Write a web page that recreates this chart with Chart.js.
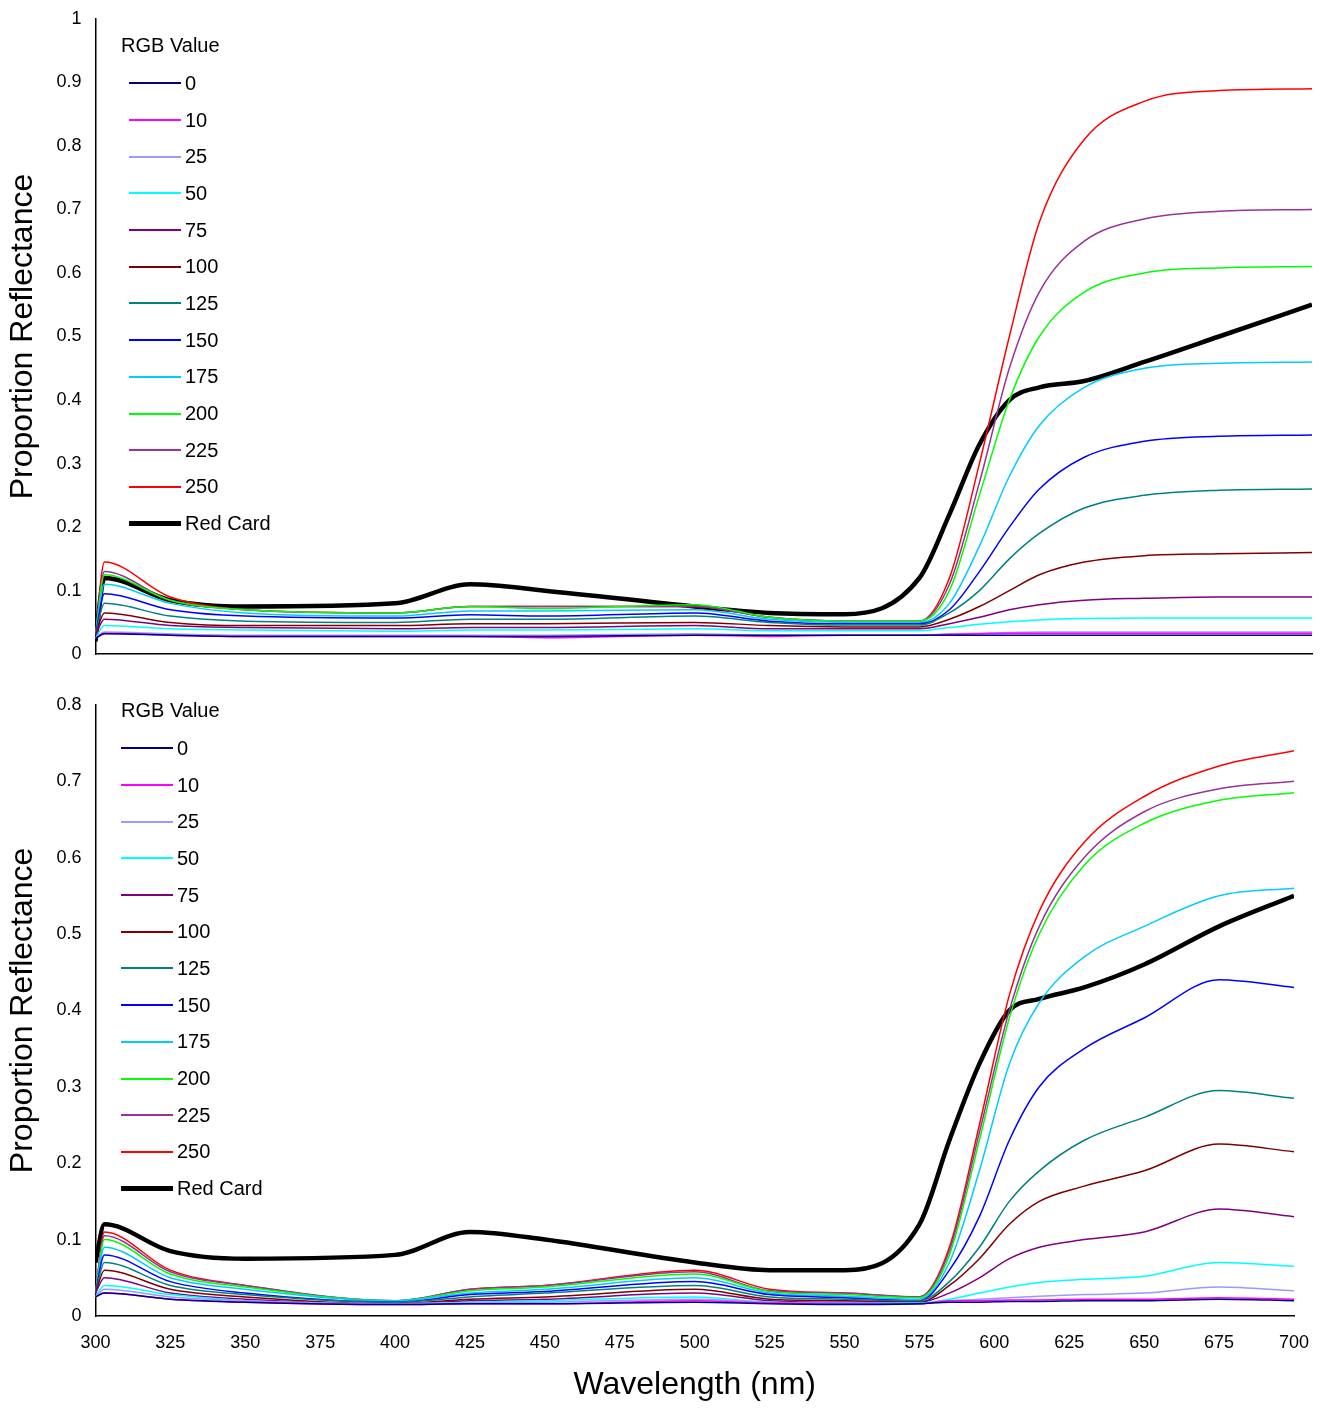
<!DOCTYPE html>
<html>
<head>
<meta charset="utf-8">
<script src="https://cdn.jsdelivr.net/npm/chart.js@4.4.1/dist/chart.umd.min.js"></script>
<style>
  body { margin: 0; background: #fff; font-family: "Liberation Sans", Arial, sans-serif; overflow: hidden; }
  .panel { position: absolute; left: 0; width: 1320px; }
  .legend { position: absolute; font-size: 20px; color: #000; }
  .legend .title { margin-bottom: 8px; }
  .legend .row { display: flex; align-items: center; height: 36.7px; }
  .legend .sw { width: 52px; margin-right: 4px; }
</style>
</head>
<body>
<div class="panel" style="top:-6px;height:685px"><canvas id="topChart"></canvas></div>
<div class="panel" style="top:680px;height:728px"><canvas id="bottomChart"></canvas></div>
<div class="legend" id="legTop" style="left:121px;top:34px"></div>
<div class="legend" id="legBottom" style="left:121px;top:699px"></div>
<script>
// wavelengths (nm) at which values were read
const waveTop = [300, 303, 325, 350, 400, 425, 450, 500, 525, 550, 575, 585, 595, 605, 615, 630, 650, 675, 706];
const waveBottom = [300, 303, 325, 350, 400, 425, 450, 500, 525, 550, 575, 585, 595, 605, 615, 630, 650, 675, 700];
const xTicks = [300, 325, 350, 375, 400, 425, 450, 475, 500, 525, 550, 575, 600, 625, 650, 675, 700];

const seriesNames = ['0', '10', '25', '50', '75', '100', '125', '150', '175', '200', '225', '250', 'Red Card'];
const seriesColors = ['#000080', '#ff00ff', '#9999ff', '#00ffff', '#800080', '#800000', '#008080', '#0000ff', '#00ccff', '#00ff00', '#993399', '#ff0000', '#000000'];

// top panel
const top0   = [.025,.032,.03,.028,.028,.028,.028,.03,.03,.03,.03, .03,.03,.03,.03,.03,.03,.03,.03];
const top10  = [.025,.033,.03,.028,.028,.028,.026,.03,.028,.03,.03, .031,.032,.033,.033,.033,.033,.033,.033];
const top25  = [.025,.035,.032,.03,.03,.03,.03,.032,.03,.03,.03, .032,.033,.034,.035,.035,.035,.035,.035];
const top50  = [.025,.045,.04,.038,.036,.038,.038,.04,.037,.037,.037, .042,.047,.051,.054,.056,.057,.057,.057];
const top75  = [.03,.055,.045,.042,.04,.042,.042,.045,.04,.04,.04, .048,.058,.07,.078,.085,.088,.09,.09];
const top100 = [.03,.065,.05,.045,.045,.048,.048,.05,.045,.043,.043, .055,.075,.10,.125,.145,.155,.158,.16];
const top125 = [.03,.08,.06,.052,.05,.055,.055,.06,.05,.046,.046, .065,.10,.15,.19,.23,.25,.258,.26];
const top150 = [.03,.095,.07,.06,.057,.062,.06,.065,.052,.048,.048, .07,.13,.20,.26,.31,.335,.343,.345];
const top175 = [.03,.11,.08,.065,.06,.068,.068,.07,.055,.05,.05, .08,.17,.28,.36,.42,.45,.458,.46];
const top200 = [.03,.125,.085,.07,.065,.075,.072,.078,.058,.052,.052, .10,.25,.40,.50,.57,.60,.608,.61];
const top225 = [.03,.13,.085,.07,.065,.075,.075,.075,.058,.052,.052, .11,.27,.45,.57,.65,.685,.697,.70];
const top250 = [.03,.145,.09,.07,.065,.075,.075,.075,.058,.052,.052, .12,.30,.50,.68,.81,.87,.887,.89];
const topRed = [.02,.12,.085,.075,.08,.11,.10,.075,.065,.063,.12, .22,.33,.40,.42,.43,.46,.50,.55];

// bottom panel
const bot0   = [.025,.03,.022,.018,.015,.016,.016,.018,.016,.015,.016, .018,.018,.019,.019,.02,.02,.022,.02];
const bot10  = [.025,.03,.022,.018,.015,.016,.016,.02,.017,.016,.016, .02,.02,.021,.021,.022,.022,.024,.022];
const bot25  = [.025,.035,.025,.02,.016,.017,.018,.022,.018,.016,.016, .02,.022,.024,.026,.028,.03,.038,.033];
const bot50  = [.025,.04,.028,.02,.016,.018,.02,.025,.018,.017,.017, .022,.03,.038,.044,.048,.052,.07,.065];
const bot75  = [.03,.05,.03,.022,.016,.02,.022,.03,.02,.018,.018, .03,.05,.075,.09,.10,.11,.14,.13];
const bot100 = [.03,.06,.035,.025,.016,.022,.025,.035,.022,.02,.018, .04,.075,.12,.15,.17,.19,.225,.215];
const bot125 = [.03,.07,.04,.028,.018,.025,.03,.04,.025,.022,.02, .045,.09,.15,.19,.23,.26,.295,.285];
const bot150 = [.03,.08,.045,.03,.018,.028,.032,.045,.028,.024,.02, .06,.13,.23,.30,.35,.39,.44,.43];
const bot175 = [.03,.09,.05,.035,.02,.03,.035,.05,.03,.026,.022, .07,.19,.33,.41,.47,.51,.55,.56];
const bot200 = [.03,.10,.055,.038,.02,.033,.038,.055,.032,.028,.024, .08,.23,.39,.50,.59,.645,.675,.685];
const bot225 = [.03,.105,.058,.04,.02,.035,.04,.058,.033,.03,.025, .085,.24,.40,.51,.60,.66,.69,.70];
const bot250 = [.03,.11,.06,.04,.02,.035,.04,.06,.035,.03,.025, .09,.25,.42,.53,.62,.68,.72,.74];
const botRed = [.07,.12,.085,.075,.08,.11,.10,.07,.06,.06,.12, .23,.33,.40,.415,.43,.46,.51,.55];

const topSeries = [top0, top10, top25, top50, top75, top100, top125, top150, top175, top200, top225, top250, topRed];
const botSeries = [bot0, bot10, bot25, bot50, bot75, bot100, bot125, bot150, bot175, bot200, bot225, bot250, botRed];

function makeDatasets(series, waves) {
    return series.map((vals, i) => ({
        label: seriesNames[i],
        data: vals.map((v, j) => ({ x: waves[j], y: v })),
        borderColor: seriesColors[i],
        borderWidth: i === 12 ? 4.5 : 1.5,
        pointRadius: 0,
        cubicInterpolationMode: 'monotone',
        fill: false
    }));
}

function makeChart(id, series, waves, opts) {
    return new Chart(document.getElementById(id), {
        type: 'line',
        data: { datasets: makeDatasets(series, waves) },
        options: {
            responsive: true,
            maintainAspectRatio: false,
            animation: false,
            layout: { padding: opts.padding },
            plugins: { legend: { display: false }, tooltip: { enabled: false } },
            scales: {
                x: {
                    type: 'linear', min: 300, max: opts.xMax,
                    grid: { display: false, drawTicks: opts.showX },
                    border: { color: '#000', width: 1.5 },
                    afterBuildTicks: axis => { axis.ticks = xTicks.map(v => ({ value: v })); },
                    ticks: { display: opts.showX, color: '#000', font: { size: 18, family: 'Liberation Sans' }, maxRotation: 0, padding: 8 },
                    title: { display: opts.showX, text: 'Wavelength (nm)', color: '#000', font: { size: 32, family: 'Liberation Sans' }, padding: { top: 4 } }
                },
                y: {
                    min: 0, max: opts.yMax,
                    grid: { display: false, drawTicks: false },
                    border: { color: '#000', width: 1.5 },
                    ticks: {
                        stepSize: 0.1, color: '#000', font: { size: 18, family: 'Liberation Sans' }, padding: 14,
                        callback: v => String(Math.round(v * 10) / 10)
                    },
                    title: { display: true, text: 'Proportion Reflectance', color: '#000', font: { size: 32, family: 'Liberation Sans' }, padding: { bottom: 0 } }
                }
            }
        }
    });
}

makeChart('topChart', topSeries, waveTop, { xMax: 706, yMax: 1, showX: false, padding: { top: 4, right: 8, bottom: 11, left: 0 } });
makeChart('bottomChart', botSeries, waveBottom, { xMax: 700, yMax: 0.8, showX: true, padding: { top: 12, right: 26, bottom: 0, left: 0 } });

function buildLegend(id, lineLeft) {
    const el = document.getElementById(id);
    let html = '<div class="title">RGB Value</div>';
    seriesNames.forEach((n, i) => {
        const h = i === 12 ? 5 : 2;
        html += `<div class="row" style="margin-left:${lineLeft}px"><div class="sw" style="height:${h}px;background:${seriesColors[i]}"></div><span>${n}</span></div>`;
    });
    el.innerHTML = html;
}
buildLegend('legTop', 8);
buildLegend('legBottom', 0);
</script>
</body>
</html>
